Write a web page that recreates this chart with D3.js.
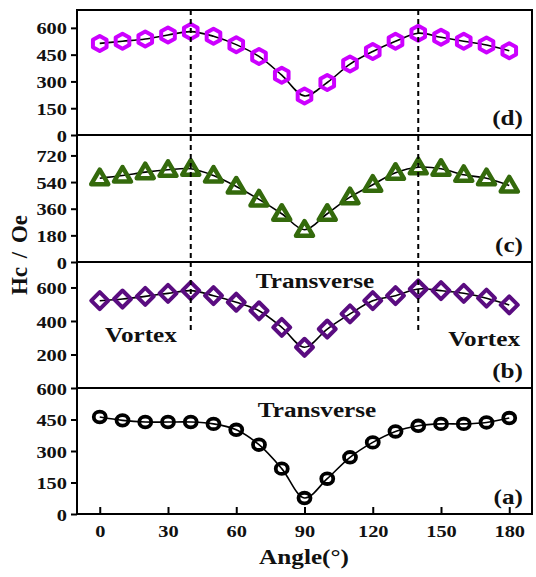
<!DOCTYPE html>
<html>
<head>
<meta charset="utf-8">
<script src="https://cdn.jsdelivr.net/npm/d3@7"></script>
<style>
  body { margin: 0; background: #fff; }
  svg text { font-family: "Liberation Serif", "Times New Roman", serif; font-weight: bold; fill: #111; }
</style>
</head>
<body>
<div class="chart"></div>
<script>
// angle values (deg)
const angles = [0, 10, 20, 30, 40, 50, 60, 70, 80, 90, 100, 110, 120, 130, 140, 150, 160, 170, 180];

// coercivity Hc (Oe), one series per panel
const hcA = [462, 446, 438, 438, 438, 429, 401, 330, 216, 76, 168, 270, 341, 393, 420, 429, 429, 436, 457];
const hcB = [521, 531, 547, 565, 581, 551, 512, 461, 362, 243, 352, 442, 521, 551, 591, 581, 565, 536, 496];
const hcC = [566, 584, 607, 623, 630, 584, 510, 423, 326, 218, 326, 438, 522, 603, 640, 630, 589, 566, 517];
const hcD = [513, 525, 538, 560, 579, 553, 506, 440, 335, 219, 294, 397, 468, 525, 570, 547, 525, 504, 472];

const xTicks = [0, 30, 60, 90, 120, 150, 180];
const ticksA = [0, 150, 300, 450, 600];
const ticksB = [200, 400, 600];
const ticksC = [0, 180, 360, 540, 720];
const ticksD = [0, 150, 300, 450, 600];

const dashAngles = [40, 140];

const W = 536, H = 577;
const left = 77, right = 532;
const sx = 1.2; // horizontal stretch of the original text

const panels = [
  {id: 'd', values: hcD, ticks: ticksD, max: 700, top: 10, bottom: 135, color: '#cc00ff', symbol: 'hex'},
  {id: 'c', values: hcC, ticks: ticksC, max: 858, top: 135, bottom: 262, color: '#346a0c', symbol: 'tri'},
  {id: 'b', values: hcB, ticks: ticksB, max: 752, top: 262, bottom: 388, color: '#5a0c80', symbol: 'dia'},
  {id: 'a', values: hcA, ticks: ticksA, max: 600, top: 388, bottom: 514, color: '#000000', symbol: 'circ'}
];

const svg = d3.select('.chart').append('svg')
    .attr('width', W)
    .attr('height', H);

const x = d3.scaleLinear().domain([-10, 190]).range([left, right]);

const stretchText = function (sel) {
  sel.each(function () {
    const t = d3.select(this);
    const tx = +t.attr('x') || 0;
    t.attr('x', tx / sx).attr('transform', `scale(${sx},1)`);
  });
};

const label = function (txt, px, py, size, anchor) {
  svg.append('text')
      .attr('transform', `translate(${px},${py}) scale(${sx},1)`)
      .attr('text-anchor', anchor || 'start')
      .style('font-size', size + 'px')
      .text(txt);
};

const symbolPath = function (type) {
  if (type === 'hex') {
    const r = 7.5;
    const pts = d3.range(6).map(i => {
      const a = Math.PI / 3 * i - Math.PI / 2;
      return [r * Math.cos(a) * 1.05, r * Math.sin(a)];
    });
    return 'M' + pts.join('L') + 'Z';
  }
  if (type === 'tri') {
    return 'M0,-8.5L8.5,6L-8.5,6Z';
  }
  if (type === 'dia') {
    return 'M0,-8.5L8.5,0L0,8.5L-8.5,0Z';
  }
  return null;
};

panels.forEach(p => {
  const y = d3.scaleLinear().domain([0, p.max]).range([p.bottom, p.top]);
  const g = svg.append('g').attr('class', 'panel panel-' + p.id);

  // y axis
  const ax = g.append('g')
      .attr('transform', `translate(${left},0)`)
      .call(d3.axisLeft(y).tickValues(p.ticks).tickSize(6).tickSizeOuter(0).tickPadding(4));
  ax.select('.domain').remove();
  ax.selectAll('line').attr('stroke', '#000').attr('stroke-width', 2);
  ax.selectAll('text')
      .style('font-size', '17px')
      .attr('dy', '0.36em')
      .call(stretchText);

  // fitted curve
  const line = d3.line()
      .x((d, i) => x(angles[i]))
      .y(d => y(d))
      .curve(d3.curveCatmullRom.alpha(0.5));

  g.append('path')
      .datum(p.values)
      .attr('d', line)
      .attr('fill', 'none')
      .attr('stroke', '#000')
      .attr('stroke-width', 1.6);

  // markers
  const pts = g.selectAll('.pt')
    .data(p.values)
    .enter();

  if (p.symbol === 'circ') {
    pts.append('ellipse')
        .attr('class', 'pt')
        .attr('cx', (d, i) => x(angles[i]))
        .attr('cy', d => y(d))
        .attr('rx', 6)
        .attr('ry', 5.3)
        .attr('fill', 'none')
        .attr('stroke', p.color)
        .attr('stroke-width', 3.8);
  } else {
    pts.append('path')
        .attr('class', 'pt')
        .attr('transform', (d, i) => `translate(${x(angles[i])},${y(d)})`)
        .attr('d', symbolPath(p.symbol))
        .attr('fill', 'none')
        .attr('stroke', p.color)
        .attr('stroke-width', p.symbol === 'tri' ? 4.5 : 4)
        .attr('stroke-linejoin', 'round');
  }

  // frame
  g.append('rect')
      .attr('x', left)
      .attr('y', p.top)
      .attr('width', right - left)
      .attr('height', p.bottom - p.top)
      .attr('fill', 'none')
      .attr('stroke', '#000')
      .attr('stroke-width', 2);

  label('(' + p.id + ')', 523, p.bottom - 10, 21, 'end');
});

// x axis on the bottom panel, ticks pointing inward
const xAxis = svg.append('g')
    .attr('transform', 'translate(0,514)')
    .call(d3.axisBottom(x).tickValues(xTicks).tickSize(-7).tickSizeOuter(0).tickPadding(11));
xAxis.select('.domain').remove();
xAxis.selectAll('line').attr('stroke', '#000').attr('stroke-width', 2);
xAxis.selectAll('text')
    .style('font-size', '17px')
    .call(stretchText);

// dashed guides at the vortex/transverse boundaries
svg.append('g')
  .selectAll('line')
  .data(dashAngles)
  .enter()
  .append('line')
    .attr('x1', d => x(d))
    .attr('x2', d => x(d))
    .attr('y1', 10)
    .attr('y2', 332)
    .attr('stroke', '#000')
    .attr('stroke-width', 2)
    .attr('stroke-dasharray', '5,4');

// annotations
label('Transverse', 315, 288, 21, 'middle');
label('Vortex', 105, 342, 21, 'start');
label('Vortex', 520, 346, 21, 'end');
label('Transverse', 317, 417, 21, 'middle');

// axis titles
label('Angle(°)', 304, 564, 21, 'middle');
svg.append('text')
    .attr('transform', 'translate(27,255) rotate(-90)')
    .attr('text-anchor', 'middle')
    .style('font-size', '23px')
    .style('word-spacing', '3px')
    .text('Hc / Oe');
</script>
</body>
</html>
